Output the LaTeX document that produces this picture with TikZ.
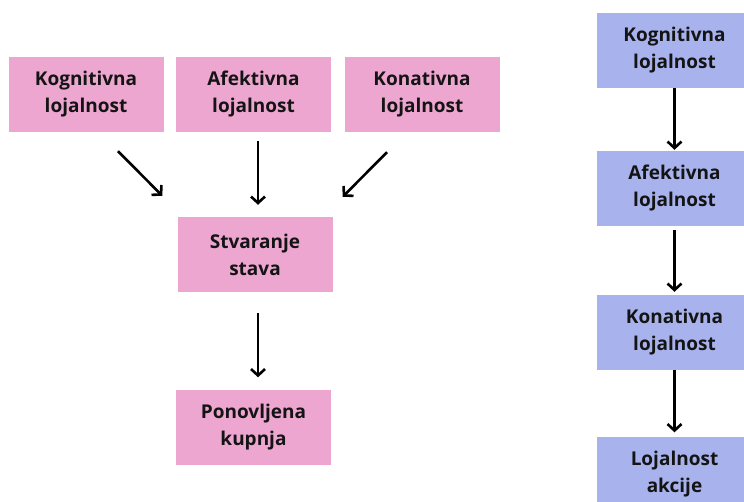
\documentclass[tikz,border=0pt]{standalone}
\usepackage{fontspec}
\setmainfont{Open Sans}
\usetikzlibrary{arrows.meta}
\definecolor{pinkbox}{RGB}{237,166,208}
\definecolor{bluebox}{RGB}{168,179,238}
\begin{document}
\begin{tikzpicture}[x=1pt,y=-1pt,
  box/.style={minimum width=155pt,minimum height=75pt,inner sep=0pt,align=center,
    font=\fontsize{19}{27}\selectfont\bfseries,text=black!92},
  pbox/.style={box,fill=pinkbox},
  bbox/.style={box,fill=bluebox},
  arr/.style={line width=2.6pt,-{Straight Barb[length=6.5pt,width=14pt,line width=2.6pt]}}]
\useasboundingbox (0,0) rectangle (744,502);
\begin{scope}
\clip (0,0) rectangle (744,502);
\node[pbox] (kog) at (86,94.5) {Kognitivna\\lojalnost};
\node[pbox] (afe) at (253.5,94.5) {Afektivna\\lojalnost};
\node[pbox] (kon) at (422,94.5) {Konativna\\lojalnost};
\node[pbox] (stv) at (255,254.5) {Stvaranje\\stava};
\node[pbox] (pon) at (253.5,427) {Ponovljena\\kupnja};
\node[bbox] (b1) at (674.5,50.5) {Kognitivna\\lojalnost};
\node[bbox] (b2) at (674.5,188.5) {Afektivna\\lojalnost};
\node[bbox] (b3) at (674.5,332.5) {Konativna\\lojalnost};
\node[bbox] (b4) at (674.5,474) {Lojalnost\\akcije};
\end{scope}
\draw[arr] ([xshift=32pt,yshift=-19pt]kog.south) -- ([xshift=-15pt,yshift=21pt]stv.north west);
\draw[arr] ([xshift=4.5pt,yshift=-9pt]afe.south) -- ([xshift=3pt,yshift=12pt]stv.north);
\draw[arr] ([xshift=-35pt,yshift=-20pt]kon.south) -- ([xshift=10pt,yshift=20pt]stv.north east);
\draw[arr] ([xshift=3pt,yshift=-21pt]stv.south) -- ([xshift=4.5pt,yshift=12pt]pon.north);
\draw[arr] (b1.south) -- ([yshift=1pt]b2.north);
\draw[arr] ([yshift=-4pt]b2.south) -- ([yshift=3pt]b3.north);
\draw[arr] (b3.south) -- ([yshift=4pt]b4.north);
\end{tikzpicture}
\end{document}
